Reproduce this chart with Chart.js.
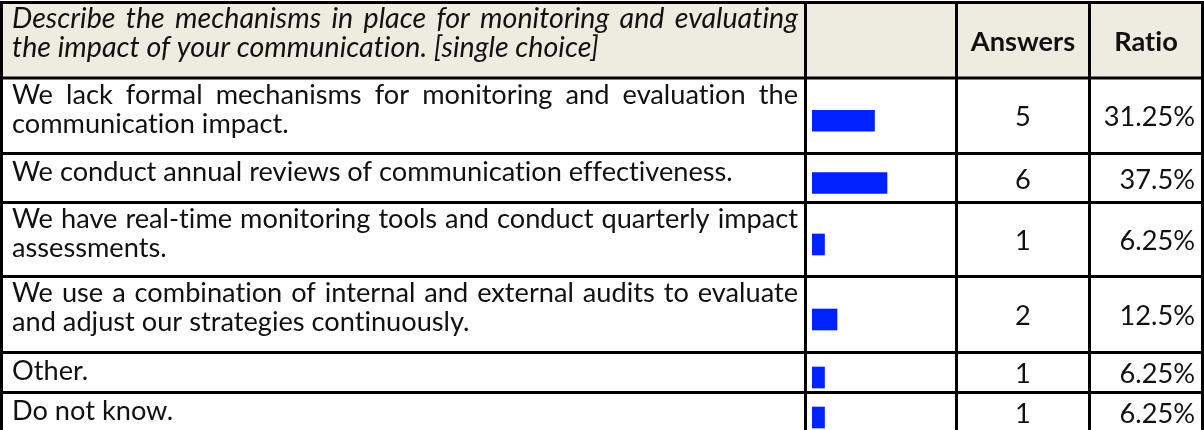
<!DOCTYPE html>
<html>
<head>
<meta charset="utf-8">
<script src="https://cdn.jsdelivr.net/npm/chart.js@4.4.1/dist/chart.umd.min.js"></script>
<style>
  html, body { margin: 0; padding: 0; background: #fff; }
  canvas { display: block; }
</style>
</head>
<body>
<canvas id="surveyChart" width="1204" height="430"></canvas>
<script>
// survey data
const question = 'Describe the mechanisms in place for monitoring and evaluating\nthe impact of your communication. [single choice]';
const categories = [
    'We lack formal mechanisms for monitoring and evaluation the\ncommunication impact.',
    'We conduct annual reviews of communication effectiveness.',
    'We have real-time monitoring tools and conduct quarterly impact\nassessments.',
    'We use a combination of internal and external audits to evaluate\nand adjust our strategies continuously.',
    'Other.',
    'Do not know.'
];
const answers = [5, 6, 1, 2, 1, 1];
const ratios = [31.25, 37.5, 6.25, 12.5, 6.25, 6.25];
const columnTitles = ['Answers', 'Ratio'];

// table layout (pixels)
const rowLines = [2.5, 78, 153.5, 202.5, 276.5, 352.5, 392.5, 432.5];
const colLines = [1.5, 805.5, 956.5, 1089.5, 1202.5];
const textLeft = 12, textRight = 798;
const fontFamily = 'Lato, "Open Sans", sans-serif';

function rowTop(i) { return rowLines[i + 1]; }
function rowBottom(i) { return rowLines[i + 2]; }
function rowCenter(i) { return (rowTop(i) + rowBottom(i)) / 2; }

// Lato joins "ti", "ff" etc. into ligatures, the original font does not
function noLig(s) { return s.replace(/([tf])(?=[iflt])/g, '$1\u200C'); }

function drawLine(ctx, text, x, y, justify) {
    if (!justify) {
        ctx.fillText(noLig(text), x, y);
        return;
    }
    const words = text.split(' ').map(noLig);
    const widths = words.map(w => ctx.measureText(w).width);
    const total = widths.reduce((a, b) => a + b, 0);
    const gap = (textRight - textLeft - total) / (words.length - 1);
    let cx = x;
    words.forEach((w, k) => {
        ctx.fillText(w, cx, y);
        cx += widths[k] + gap;
    });
}

function drawCellText(ctx, text, top) {
    const lines = text.split('\n');
    if (lines.length > 1) {
        lines.forEach((line, k) => {
            drawLine(ctx, line, textLeft, top + 25.5 + k * 29, k < lines.length - 1);
        });
    } else {
        drawLine(ctx, text, textLeft, top + 27.5, false);
    }
}

const tablePlugin = {
    id: 'tablePlugin',
    beforeDraw(chart) {
        const ctx = chart.ctx;
        ctx.save();
        // fit fonts to the widths measured on the original
        ctx.font = '100px ' + fontFamily;
        const size = 100 * 721 / ctx.measureText(noLig(categories[1])).width;
        ctx.font = 'italic 100px ' + fontFamily;
        const italicSize = 100 * 587 / ctx.measureText(noLig(question.split('\n')[1])).width;

        ctx.fillStyle = '#ffffff';
        ctx.fillRect(0, 0, chart.width, chart.height);
        ctx.fillStyle = '#EEECE1';
        ctx.fillRect(colLines[0], rowLines[0], colLines[4] - colLines[0], rowLines[1] - rowLines[0]);

        ctx.fillStyle = '#111111';
        ctx.textBaseline = 'alphabetic';
        ctx.textAlign = 'left';
        ctx.font = 'italic ' + italicSize.toFixed(2) + 'px ' + fontFamily;
        drawCellText(ctx, question, rowLines[0]);

        ctx.font = 'bold ' + size.toFixed(2) + 'px ' + fontFamily;
        ctx.textAlign = 'center';
        const headMid = (rowLines[0] + rowLines[1]) / 2 + 10.5;
        ctx.fillText(noLig(columnTitles[0]), (colLines[2] + colLines[3]) / 2, headMid);
        ctx.fillText(noLig(columnTitles[1]), (colLines[3] + colLines[4]) / 2, headMid);

        ctx.font = size.toFixed(2) + 'px ' + fontFamily;
        categories.forEach((c, i) => {
            ctx.textAlign = 'left';
            drawCellText(ctx, c, rowTop(i));
            const base = rowCenter(i) + 10.5;
            ctx.textAlign = 'center';
            ctx.fillText(String(answers[i]), (colLines[2] + colLines[3]) / 2, base);
            ctx.textAlign = 'right';
            ctx.fillText(ratios[i] + '%', colLines[4] - 7.5, base);
        });
        ctx.restore();
    },
    afterDraw(chart) {
        const ctx = chart.ctx;
        ctx.save();
        ctx.strokeStyle = '#000000';
        ctx.lineWidth = 3;
        ctx.beginPath();
        rowLines.forEach(y => {
            ctx.moveTo(0, y);
            ctx.lineTo(chart.width, y);
        });
        colLines.forEach(x => {
            ctx.moveTo(x, rowLines[0] - 1.5);
            ctx.lineTo(x, chart.height);
        });
        ctx.stroke();
        ctx.restore();
    }
};

new Chart(document.getElementById('surveyChart'), {
    type: 'bar',
    data: {
        datasets: [{
            label: 'Ratio',
            data: ratios.map((r, i) => ({ x: r, y: rowCenter(i) + 5 })),
            backgroundColor: '#0022FF',
            borderWidth: 0,
            barThickness: 21
        }]
    },
    options: {
        indexAxis: 'y',
        responsive: false,
        animation: false,
        devicePixelRatio: 1,
        layout: {
            padding: { left: 812, right: 192, top: 0, bottom: 0 }
        },
        scales: {
            x: { type: 'linear', min: 0, max: 100, display: false, offset: false },
            y: { type: 'linear', min: 0, max: 430, reverse: true, display: false, offset: false }
        },
        plugins: {
            legend: { display: false },
            tooltip: { enabled: false }
        }
    },
    plugins: [tablePlugin]
});
</script>
</body>
</html>
